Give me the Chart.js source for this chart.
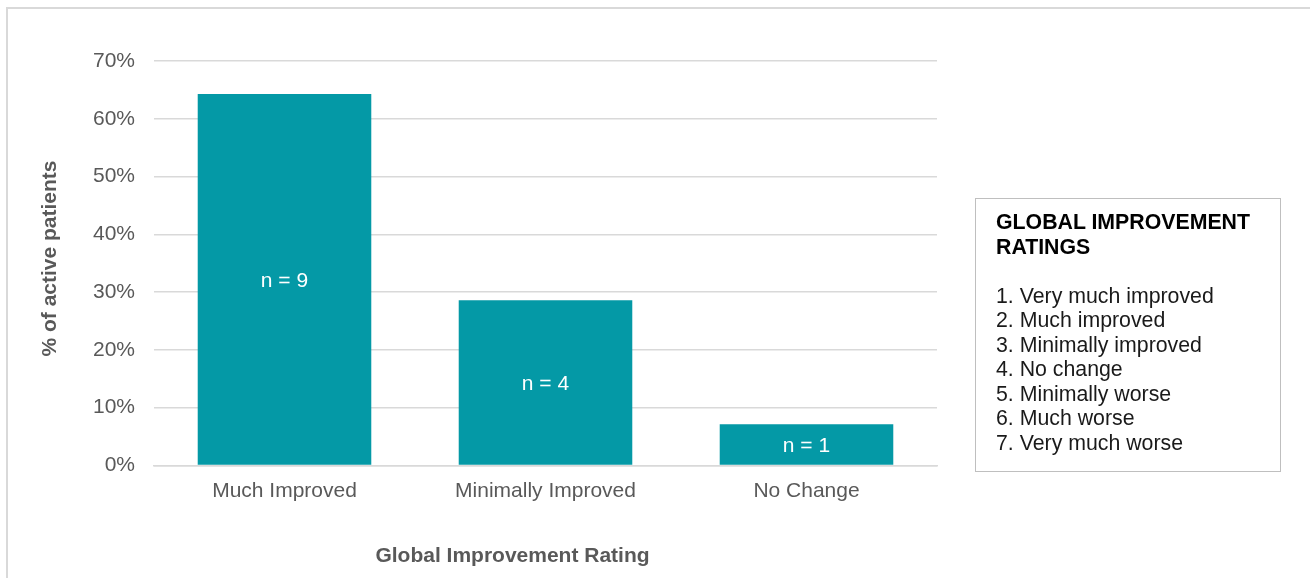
<!DOCTYPE html>
<html>
<head>
<meta charset="utf-8">
<script src="https://cdn.jsdelivr.net/npm/chart.js@4"></script>
<style>
  html, body { margin: 0; padding: 0; background: #ffffff; overflow: hidden; }
  body { width: 1310px; height: 578px; position: relative; font-family: "Liberation Sans", Arial, sans-serif; }
  #frame { position: absolute; left: 6px; top: 7px; width: 1400px; height: 700px; border: 2px solid #d9d9d9; box-sizing: border-box; }
  #wrap { position: absolute; left: 0; top: 0; width: 1310px; height: 578px; }
  #legendBox { position: absolute; left: 975px; top: 198px; width: 306px; height: 274px; box-sizing: border-box;
    border: 1.5px solid #bfbfbf; padding: 11px 0 0 20px; font-size: 21.3px; line-height: 24.5px; color: #1a1a1a; }
  #legendBox .ttl { font-weight: bold; color: #000; }
  #legendBox .gap { height: 24.5px; }
</style>
</head>
<body>
<div id="frame"></div>
<div id="wrap"><canvas id="c" width="1310" height="578"></canvas></div>
<div id="legendBox"></div>
<script>
// ---- data ----
const categories = ["Much Improved", "Minimally Improved", "No Change"];
const percentValues = [64.29, 28.57, 7.14];
const patientCounts = [9, 4, 1];
const yTickValues = [0, 10, 20, 30, 40, 50, 60, 70];
const legendTitle = ["GLOBAL IMPROVEMENT", "RATINGS"];
const ratingItems = ["1. Very much improved", "2. Much improved", "3. Minimally improved", "4. No change", "5. Minimally worse", "6. Much worse", "7. Very much worse"];
const xAxisTitle = "Global Improvement Rating";
const yAxisTitle = "% of active patients";

// ---- legend box (text) ----
const lb = document.getElementById('legendBox');
legendTitle.forEach(t => { const d = document.createElement('div'); d.className = 'ttl'; d.textContent = t; lb.appendChild(d); });
const g = document.createElement('div'); g.className = 'gap'; lb.appendChild(g);
ratingItems.forEach(t => { const d = document.createElement('div'); d.textContent = t; lb.appendChild(d); });

const FONT = "'Liberation Sans', Arial, sans-serif";

const barLabels = {
  id: 'barLabels',
  afterDatasetsDraw(chart) {
    const ctx = chart.ctx;
    const meta = chart.getDatasetMeta(0);
    ctx.save();
    ctx.fillStyle = '#ffffff';
    ctx.font = "21px " + FONT;
    ctx.textAlign = 'center';
    ctx.textBaseline = 'middle';
    meta.data.forEach((bar, i) => {
      const p = bar.getProps(['x', 'y', 'base'], true);
      ctx.fillText('n = ' + patientCounts[i], p.x, (p.y + p.base) / 2 + 1.5);
    });
    ctx.restore();
  }
};

// axis titles, placed as in the reference layout
const axisTitles = {
  id: 'axisTitles',
  afterDraw(chart) {
    const ctx = chart.ctx;
    ctx.save();
    ctx.fillStyle = '#595959';
    ctx.font = "bold 21px " + FONT;
    ctx.textAlign = 'center';
    ctx.textBaseline = 'middle';
    ctx.fillText(xAxisTitle, 512.5, 556.5);
    ctx.translate(50, 258.5);
    ctx.rotate(-Math.PI / 2);
    ctx.fillText(yAxisTitle, 0, 0);
    ctx.restore();
  }
};

new Chart(document.getElementById('c'), {
  type: 'bar',
  data: {
    labels: categories,
    datasets: [{
      data: percentValues,
      backgroundColor: '#0499a6',
      borderWidth: 0,
      categoryPercentage: 1.0,
      barPercentage: 0.665
    }]
  },
  options: {
    responsive: false,
    animation: false,
    events: [],
    layout: { padding: { left: 37, right: 373, top: 61, bottom: 9 } },
    plugins: { legend: { display: false }, tooltip: { enabled: false } },
    scales: {
      x: {
        grid: { display: false, drawTicks: false },
        border: { display: true, color: '#d9d9d9', width: 1.5 },
        ticks: { color: '#595959', font: { family: FONT, size: 21 }, padding: 13 },
        title: { display: false },
        afterFit(scale) { scale.height = 103.6; }
      },
      y: {
        min: 0, max: 70,
        afterBuildTicks(scale) { scale.ticks = yTickValues.map(v => ({ value: v })); },
        grid: { color: '#d9d9d9', lineWidth: 1.5, drawTicks: false },
        border: { display: false },
        ticks: { color: '#595959', font: { family: FONT, size: 21 }, padding: 19, callback: v => v + '%' },
        title: { display: false },
        afterFit(scale) { scale.width = 117; }
      }
    }
  },
  plugins: [barLabels, axisTitles]
});
</script>
</body>
</html>
